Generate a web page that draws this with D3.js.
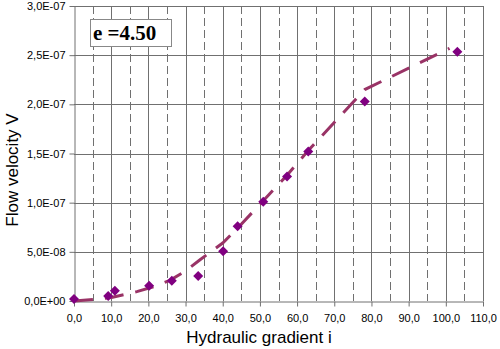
<!DOCTYPE html>
<html>
<head>
<meta charset="utf-8">
<script src="https://cdn.jsdelivr.net/npm/d3@7"></script>
<style>
  body { margin: 0; background: #fff; }
  svg text { font-family: Arial, "Liberation Sans", sans-serif; }
</style>
</head>
<body>
<svg id="chart" width="500" height="349"></svg>
<script>
// measured points
var gradient = [0.0, 9.2, 11.0, 20.2, 26.3, 33.4, 40.1, 44.0, 50.9, 57.3, 63.0, 78.2, 103.1];
var velocity = [2e-9, 5e-9, 1.05e-8, 1.55e-8, 2.05e-8, 2.55e-8, 5.05e-8, 7.6e-8, 1.01e-7, 1.265e-7, 1.52e-7, 2.03e-7, 2.535e-7];

// fitted dashed line
var fitX = [0.0, 5.4, 10.1, 16.9, 21.8, 25.8, 29.8, 33.9, 40.0, 44.0, 50.9, 57.3, 63.0, 78.2, 101.0];
var fitY = [0, 1.7e-9, 3.6e-9, 9.5e-9, 1.5e-8, 2.1e-8, 3.0e-8, 4.2e-8, 5.9e-8, 7.4e-8, 1.02e-7, 1.28e-7, 1.53e-7, 2.15e-7, 2.57e-7];

var xTicks = [0, 10, 20, 30, 40, 50, 60, 70, 80, 90, 100, 110];
var xMinor = [5, 15, 25, 35, 45, 55, 65, 75, 85, 95, 105];
var yTicks = [0, 5e-8, 1e-7, 1.5e-7, 2e-7, 2.5e-7, 3e-7];
var yTickLabels = ["0,0E+00", "5,0E-08", "1,0E-07", "1,5E-07", "2,0E-07", "2,5E-07", "3,0E-07"];

var svg = d3.select("svg#chart");
var plotLeft = 74, plotRight = 483, plotTop = 6, plotBottom = 301;
var gridColour = "#707070";

var x = d3.scaleLinear().domain([0, 110]).range([plotLeft, plotRight]);
var y = d3.scaleLinear().domain([0, 3e-7]).range([plotBottom, plotTop]);

// grid
var grid = svg.append("g").attr("id", "grid");

grid.selectAll("line.minor")
    .data(xMinor)
    .enter().append("line")
    .attr("class", "minor")
    .attr("x1", function(d) { return Math.round(x(d)) + 0.5; })
    .attr("x2", function(d) { return Math.round(x(d)) + 0.5; })
    .attr("y1", plotTop)
    .attr("y2", plotBottom)
    .attr("stroke", gridColour)
    .attr("stroke-width", 1)
    .attr("stroke-dasharray", "8,4");

grid.selectAll("line.vmajor")
    .data(xTicks.slice(1))
    .enter().append("line")
    .attr("class", "vmajor")
    .attr("x1", function(d) { return Math.round(x(d)) + 0.5; })
    .attr("x2", function(d) { return Math.round(x(d)) + 0.5; })
    .attr("y1", plotTop)
    .attr("y2", plotBottom)
    .attr("stroke", gridColour)
    .attr("stroke-width", 1);

grid.selectAll("line.hmajor")
    .data(yTicks.slice(1))
    .enter().append("line")
    .attr("class", "hmajor")
    .attr("x1", plotLeft)
    .attr("x2", plotRight)
    .attr("y1", function(d) { return Math.round(y(d)) + 0.5; })
    .attr("y2", function(d) { return Math.round(y(d)) + 0.5; })
    .attr("stroke", gridColour)
    .attr("stroke-width", 1);

// axes
var xAxis = d3.axisBottom(x)
    .tickValues(xTicks)
    .tickSize(5)
    .tickSizeOuter(0)
    .tickFormat(function(d) { return d.toFixed(1).replace(".", ","); });

var yAxis = d3.axisLeft(y)
    .tickValues(yTicks)
    .tickSize(5)
    .tickSizeOuter(0)
    .tickFormat(function(d, i) { return yTickLabels[i]; });

var gx = svg.append("g")
    .attr("transform", "translate(0," + (Math.round(y(0)) + 0.5) + ")")
    .call(xAxis);

var gy = svg.append("g")
    .attr("transform", "translate(" + (Math.round(x(0)) + 0.5) + ",0)")
    .call(yAxis);

[gx, gy].forEach(function(g) {
    g.select(".domain").attr("stroke", gridColour);
    g.selectAll(".tick line").attr("stroke", gridColour);
    g.selectAll(".tick text")
        .attr("fill", "#000")
        .style("font-size", "11px")
        .style("font-family", "Arial, 'Liberation Sans', sans-serif");
});
gx.selectAll(".tick text").attr("dy", "1.1em");
gy.selectAll(".tick text").attr("x", -9);

// fitted line
var fitData = fitX.map(function(d, i) { return [d, fitY[i]]; });
svg.append("path")
    .datum(fitData)
    .attr("fill", "none")
    .attr("stroke", "#993366")
    .attr("stroke-width", 3)
    .attr("stroke-dasharray", "19,12")
    .attr("d", d3.line()
        .x(function(d) { return x(d[0]); })
        .y(function(d) { return y(d[1]); }));

// data points
var pts = gradient.map(function(d, i) { return [d, velocity[i]]; });
svg.selectAll("path.pt")
    .data(pts)
    .enter().append("path")
    .attr("class", "pt")
    .attr("d", d3.symbol().type(d3.symbolSquare).size(50))
    .attr("transform", function(d) { return "translate(" + x(d[0]) + "," + y(d[1]) + ") rotate(45)"; })
    .attr("fill", "#800080");

// label box
svg.append("rect")
    .attr("x", 90.5)
    .attr("y", 19.5)
    .attr("width", 81)
    .attr("height", 27)
    .attr("fill", "#fff")
    .attr("stroke", "#888")
    .attr("stroke-width", 1);

svg.append("text")
    .attr("x", 93)
    .attr("y", 40)
    .style("font-family", "'Liberation Serif', 'Times New Roman', serif")
    .style("font-weight", "bold")
    .style("font-size", "21px")
    .text("e =4.50");

// axis titles
svg.append("text")
    .attr("x", 259)
    .attr("y", 343)
    .attr("text-anchor", "middle")
    .style("font-size", "17px")
    .text("Hydraulic gradient i");

svg.append("text")
    .attr("transform", "translate(18,170) rotate(-90)")
    .attr("text-anchor", "middle")
    .style("font-size", "17px")
    .text("Flow velocity V");
</script>
</body>
</html>
